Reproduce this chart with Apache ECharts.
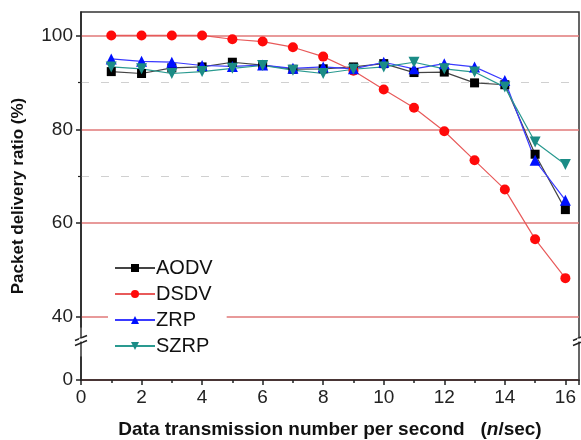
<!DOCTYPE html>
<html>
<head>
<meta charset="utf-8">
<script src="https://cdn.jsdelivr.net/npm/echarts@6/dist/echarts.min.js"></script>
<style>
  html, body { margin: 0; padding: 0; background: #fff; }
  #main { width: 581px; height: 440px; }
</style>
</head>
<body>
<div id="main"></div>
<script>
// transmissions per second
var rates = [1, 2, 3, 4, 5, 6, 7, 8, 9, 10, 11, 12, 13, 14, 15, 16];
var aodv = [92.3, 91.9, 93.1, 93.3, 94.3, 93.7, 92.8, 92.9, 93.3, 94.0, 92.1, 92.2, 89.9, 89.5, 74.7, 62.9];
var dsdv = [100, 100, 100, 100, 99.2, 98.7, 97.5, 95.5, 92.5, 88.5, 84.6, 79.6, 73.4, 67.2, 56.6, 48.3];
var zrp = [95.0, 94.5, 94.3, 93.6, 93.4, 93.7, 93.0, 93.3, 92.9, 94.3, 92.9, 94.0, 93.3, 90.4, 73.4, 64.9];
var szrp = [93.3, 92.9, 91.9, 92.3, 93.0, 93.6, 92.6, 91.9, 92.8, 93.3, 94.3, 92.9, 92.2, 89.0, 77.3, 72.5];
var yTicks = [0, 40, 60, 80, 100];

function pairs(vals) {
  return rates.map(function (r, i) { return [r, vals[i]]; });
}

var chart = echarts.init(document.getElementById('main'));

function mkSeries(name, vals, symbol, color, lineColor, size, rotate) {
  return {
    name: name,
    type: 'line',
    data: pairs(vals),
    symbol: symbol,
    symbolSize: size,
    symbolRotate: rotate || 0,
    showAllSymbol: true,
    itemStyle: { color: color },
    lineStyle: { color: lineColor, width: 1.2 },
    emphasis: { disabled: true }
  };
}

var option = {
  backgroundColor: '#fff',
  animation: false,
  grid: {
    left: 81, right: 2, top: 12, bottom: 60,
    outerBoundsMode: 'none',
    show: true, borderColor: '#333', borderWidth: 1.5
  },
  legend: {
    orient: 'vertical',
    left: 108, top: 255,
    z: 20,
    itemWidth: 40, itemHeight: 10, itemGap: 6,
    backgroundColor: '#fff',
    padding: [3, 14, 3, 6],
    textStyle: { fontFamily: 'Liberation Sans', fontSize: 20, color: '#111', padding: [0, 0, 0, -4] },
    data: ['AODV', 'DSDV', 'ZRP', 'SZRP']
  },
  xAxis: {
    type: 'value',
    min: 0, max: 16.45, interval: 2,
    name: '{b|Data transmission number per second   (}{i|n}{b|/sec)}',
    nameLocation: 'middle', nameGap: 40,
    nameTextStyle: {
      rich: {
        b: { fontFamily: 'Liberation Sans', fontWeight: 'bold', fontSize: 19, color: '#111' },
        i: { fontFamily: 'Liberation Sans', fontWeight: 'bold', fontStyle: 'italic', fontSize: 19, color: '#111' }
      }
    },
    axisLine: { lineStyle: { color: '#222', width: 1.5 } },
    axisTick: { length: 5, lineStyle: { color: '#222', width: 1.5 } },
    minorTick: { show: true, splitNumber: 2, length: 3, lineStyle: { color: '#222', width: 1.5 } },
    splitLine: { show: false },
    axisLabel: {
      fontFamily: 'Liberation Sans', fontSize: 19, color: '#222', margin: 8,
      formatter: function (v) { return v % 2 === 0 && v <= 16 ? String(v) : ''; }
    }
  },
  yAxis: {
    type: 'value',
    min: 0, max: 105, interval: 20,
    breaks: [{ start: 5, end: 38, gap: 6.4 }],
    breakArea: {
      show: true,
      expandOnClick: false,
      zigzagAmplitude: 0,
      itemStyle: { color: 'rgba(255,255,255,0)', borderColor: 'rgba(0,0,0,0)', borderWidth: 0, opacity: 0 }
    },
    name: 'Packet delivery ratio (%)',
    nameLocation: 'middle', nameGap: 54,
    nameTextStyle: { fontFamily: 'Liberation Sans', fontWeight: 'bold', fontSize: 17, color: '#111' },
    axisLine: { show: true, lineStyle: { color: '#222', width: 1.5 } },
    axisTick: {
      length: 5, lineStyle: { color: '#222', width: 1.5 },
      customValues: yTicks
    },
    minorTick: { show: true, splitNumber: 2, length: 3, lineStyle: { color: '#222', width: 1.2 } },
    splitLine: { show: true, lineStyle: { color: '#e07878', width: 1.5 } },
    minorSplitLine: { show: true, lineStyle: { color: '#d0d0d0', width: 1, type: [8, 12] } },
    axisLabel: {
      fontFamily: 'Liberation Sans', fontSize: 19, color: '#222', margin: 8,
      customValues: yTicks,
      formatter: function (v) { return yTicks.indexOf(v) >= 0 ? String(v) : ''; }
    }
  },
  series: [
    mkSeries('AODV', aodv, 'rect', '#000', '#444', 9),
    mkSeries('DSDV', dsdv, 'circle', '#ff0a0a', '#e85a5a', 10),
    mkSeries('ZRP', zrp, 'triangle', '#0010ff', '#3a3aff', 11),
    mkSeries('SZRP', szrp, 'triangle', '#1b8c86', '#2a9a90', 11, 180)
  ]
};

chart.setOption(option);

// "//" break marks on the left and right frame
var yLo = chart.convertToPixel({ yAxisIndex: 0 }, 5);
var yHi = chart.convertToPixel({ yAxisIndex: 0 }, 38);
var yMid = (yLo + yHi) / 2;
function breakMark(x) {
  return [
    { type: 'line', shape: { x1: x - 6, y1: yMid - 1, x2: x + 6, y2: yMid - 6 }, style: { stroke: '#222', lineWidth: 1.5 } },
    { type: 'line', shape: { x1: x - 6, y1: yMid + 4, x2: x + 6, y2: yMid - 1 }, style: { stroke: '#222', lineWidth: 1.5 } },
    { type: 'rect', shape: { x: x - 2, y: yMid - 3, width: 4, height: 3 }, style: { fill: '#fff' } }
  ];
}
chart.setOption({
  graphic: breakMark(81).concat(breakMark(579))
});
</script>
</body>
</html>
